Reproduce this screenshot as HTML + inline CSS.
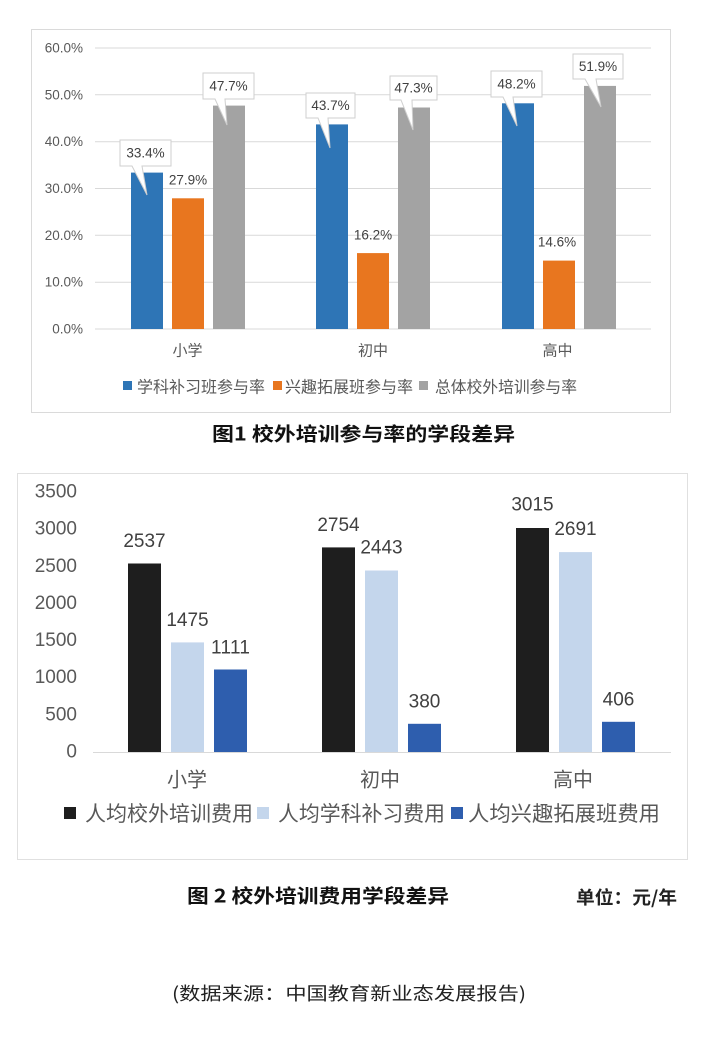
<!DOCTYPE html>
<html>
<head>
<meta charset="utf-8">
<style>
  html,body{margin:0;padding:0;background:#fff;}
  svg{display:block;}
  text{font-family:"Liberation Sans","Noto Sans CJK SC",sans-serif;}
  .cjk{font-family:"Noto Sans CJK SC","WenQuanYi Zen Hei",sans-serif;}
</style>
</head>
<body>
<svg width="708" height="1050" viewBox="0 0 708 1050" xmlns="http://www.w3.org/2000/svg">
  <rect x="0" y="0" width="708" height="1050" fill="#ffffff"/>

  <!-- ================= CHART 1 ================= -->
  <rect x="31.5" y="29.5" width="639" height="383" fill="#ffffff" stroke="#dadada" stroke-width="1"/>

  <g stroke="#d9d9d9" stroke-width="1">
    <line x1="95" y1="48" x2="651" y2="48"/>
    <line x1="95" y1="94.8" x2="651" y2="94.8"/>
    <line x1="95" y1="141.7" x2="651" y2="141.7"/>
    <line x1="95" y1="188.5" x2="651" y2="188.5"/>
    <line x1="95" y1="235.3" x2="651" y2="235.3"/>
    <line x1="95" y1="282.2" x2="651" y2="282.2"/>
    <line x1="95" y1="329" x2="651" y2="329"/>
  </g>

  <g font-size="13.5" fill="#595959" text-anchor="end" dominant-baseline="central">
    <text x="83" y="48">60.0%</text>
    <text x="83" y="94.8">50.0%</text>
    <text x="83" y="141.7">40.0%</text>
    <text x="83" y="188.5">30.0%</text>
    <text x="83" y="235.3">20.0%</text>
    <text x="83" y="282.2">10.0%</text>
    <text x="83" y="329">0.0%</text>
  </g>

  <g>
    <rect x="131" y="172.6" width="32" height="156.4" fill="#2E75B6"/>
    <rect x="172" y="198.3" width="32" height="130.7" fill="#E8761F"/>
    <rect x="213" y="105.6" width="32" height="223.4" fill="#A3A3A3"/>

    <rect x="316" y="124.4" width="32" height="204.6" fill="#2E75B6"/>
    <rect x="357" y="253.1" width="32" height="75.9" fill="#E8761F"/>
    <rect x="398" y="107.5" width="32" height="221.5" fill="#A3A3A3"/>

    <rect x="502" y="103.3" width="32" height="225.7" fill="#2E75B6"/>
    <rect x="543" y="260.6" width="32" height="68.4" fill="#E8761F"/>
    <rect x="584" y="85.9" width="32" height="243.1" fill="#A3A3A3"/>
  </g>

  <g fill="#ffffff" stroke="#cfcfcf" stroke-width="1">
    <path d="M120,140 H171 V166 H142 L147,195 L132,166 H120 Z"/>
    <path d="M203,73 H254 V99 H225 L227,125 L215,99 H203 Z"/>
    <path d="M306,93 H355 V118 H328 L330,148 L318,118 H306 Z"/>
    <path d="M390,76 H437 V100 H412 L413,130 L401,100 H390 Z"/>
    <path d="M491,71 H542 V97 H513 L517,126 L503,97 H491 Z"/>
    <path d="M573,54 H623 V79 H596 L601,107 L585,79 H573 Z"/>
  </g>
  <g font-size="13.5" fill="#404040" text-anchor="middle" dominant-baseline="central">
    <text x="145.5" y="153">33.4%</text>
    <text x="228.5" y="86">47.7%</text>
    <text x="330.5" y="105.5">43.7%</text>
    <text x="413.5" y="88">47.3%</text>
    <text x="516.5" y="84">48.2%</text>
    <text x="598" y="66.5">51.9%</text>
    <text x="188" y="180">27.9%</text>
    <text x="373" y="235">16.2%</text>
    <text x="557" y="242">14.6%</text>
  </g>

  <g font-size="15" fill="#595959" text-anchor="middle" dominant-baseline="central">
    <text x="187.5" y="350" class="cjk">小学</text>
    <text x="373" y="350" class="cjk">初中</text>
    <text x="557.5" y="350" class="cjk">高中</text>
  </g>

  <rect x="123" y="381" width="9" height="9" fill="#2E75B6"/>
  <text class="cjk" x="137" y="385.5" font-size="16" fill="#595959" dominant-baseline="central" textLength="128" lengthAdjust="spacingAndGlyphs">学科补习班参与率</text>
  <rect x="273" y="381" width="9" height="9" fill="#E8761F"/>
  <text class="cjk" x="285" y="385.5" font-size="16" fill="#595959" dominant-baseline="central" textLength="128" lengthAdjust="spacingAndGlyphs">兴趣拓展班参与率</text>
  <rect x="419" y="381" width="9" height="9" fill="#A3A3A3"/>
  <text class="cjk" x="435" y="385.5" font-size="16" fill="#595959" dominant-baseline="central" textLength="142" lengthAdjust="spacingAndGlyphs">总体校外培训参与率</text>

  <text class="cjk" x="212" y="433" font-size="19" font-weight="bold" fill="#111111" dominant-baseline="central" textLength="303" lengthAdjust="spacingAndGlyphs">图1 校外培训参与率的学段差异</text>

  <!-- ================= CHART 2 ================= -->
  <rect x="17.5" y="473.5" width="670" height="386" fill="#ffffff" stroke="#e0e0e0" stroke-width="1"/>

  <line x1="93" y1="752.5" x2="671" y2="752.5" stroke="#d9d9d9" stroke-width="1"/>

  <g font-size="19" fill="#595959" text-anchor="end" dominant-baseline="central">
    <text x="77" y="492">3500</text>
    <text x="77" y="529.1">3000</text>
    <text x="77" y="566.3">2500</text>
    <text x="77" y="603.4">2000</text>
    <text x="77" y="640.6">1500</text>
    <text x="77" y="677.7">1000</text>
    <text x="77" y="714.9">500</text>
    <text x="77" y="752">0</text>
  </g>

  <g>
    <rect x="128" y="563.5" width="33" height="188.5" fill="#1E1E1E"/>
    <rect x="171" y="642.4" width="33" height="109.6" fill="#C4D6EC"/>
    <rect x="214" y="669.5" width="33" height="82.5" fill="#2E5EAE"/>

    <rect x="322" y="547.4" width="33" height="204.6" fill="#1E1E1E"/>
    <rect x="365" y="570.5" width="33" height="181.5" fill="#C4D6EC"/>
    <rect x="408" y="723.8" width="33" height="28.2" fill="#2E5EAE"/>

    <rect x="516" y="528" width="33" height="224" fill="#1E1E1E"/>
    <rect x="559" y="552.1" width="33" height="199.9" fill="#C4D6EC"/>
    <rect x="602" y="721.8" width="33" height="30.2" fill="#2E5EAE"/>
  </g>

  <g font-size="19" fill="#404040" text-anchor="middle" dominant-baseline="central">
    <text x="144.5" y="541.5">2537</text>
    <text x="187.5" y="620.5">1475</text>
    <text x="230.5" y="648" textLength="39" lengthAdjust="spacing">1111</text>
    <text x="338.5" y="525.5">2754</text>
    <text x="381.5" y="548">2443</text>
    <text x="424.5" y="702">380</text>
    <text x="532.5" y="505">3015</text>
    <text x="575.5" y="529.5">2691</text>
    <text x="618.5" y="700">406</text>
  </g>

  <g font-size="20" fill="#595959" text-anchor="middle" dominant-baseline="central">
    <text class="cjk" x="187" y="778">小学</text>
    <text class="cjk" x="380" y="778">初中</text>
    <text class="cjk" x="573" y="778">高中</text>
  </g>

  <rect x="64" y="807" width="12" height="12" fill="#1E1E1E"/>
  <text class="cjk" x="85" y="813" font-size="21" fill="#595959" dominant-baseline="central" textLength="168" lengthAdjust="spacingAndGlyphs">人均校外培训费用</text>
  <rect x="257" y="807" width="12" height="12" fill="#C4D6EC"/>
  <text class="cjk" x="278" y="813" font-size="21" fill="#595959" dominant-baseline="central" textLength="167" lengthAdjust="spacingAndGlyphs">人均学科补习费用</text>
  <rect x="451" y="807" width="12" height="12" fill="#2E5EAE"/>
  <text class="cjk" x="468" y="813" font-size="21" fill="#595959" dominant-baseline="central" textLength="192" lengthAdjust="spacingAndGlyphs">人均兴趣拓展班费用</text>

  <text class="cjk" x="187" y="895" font-size="19" font-weight="bold" fill="#111111" dominant-baseline="central" textLength="262" lengthAdjust="spacingAndGlyphs">图 2 校外培训费用学段差异</text>
  <text class="cjk" x="576" y="897" font-size="18" font-weight="bold" fill="#222222" dominant-baseline="central" textLength="101" lengthAdjust="spacingAndGlyphs">单位：元/年</text>

  <text class="cjk" x="172" y="993" font-size="18" fill="#222222" dominant-baseline="central" textLength="354" lengthAdjust="spacingAndGlyphs">(数据来源：中国教育新业态发展报告)</text>
</svg>
</body>
</html>
